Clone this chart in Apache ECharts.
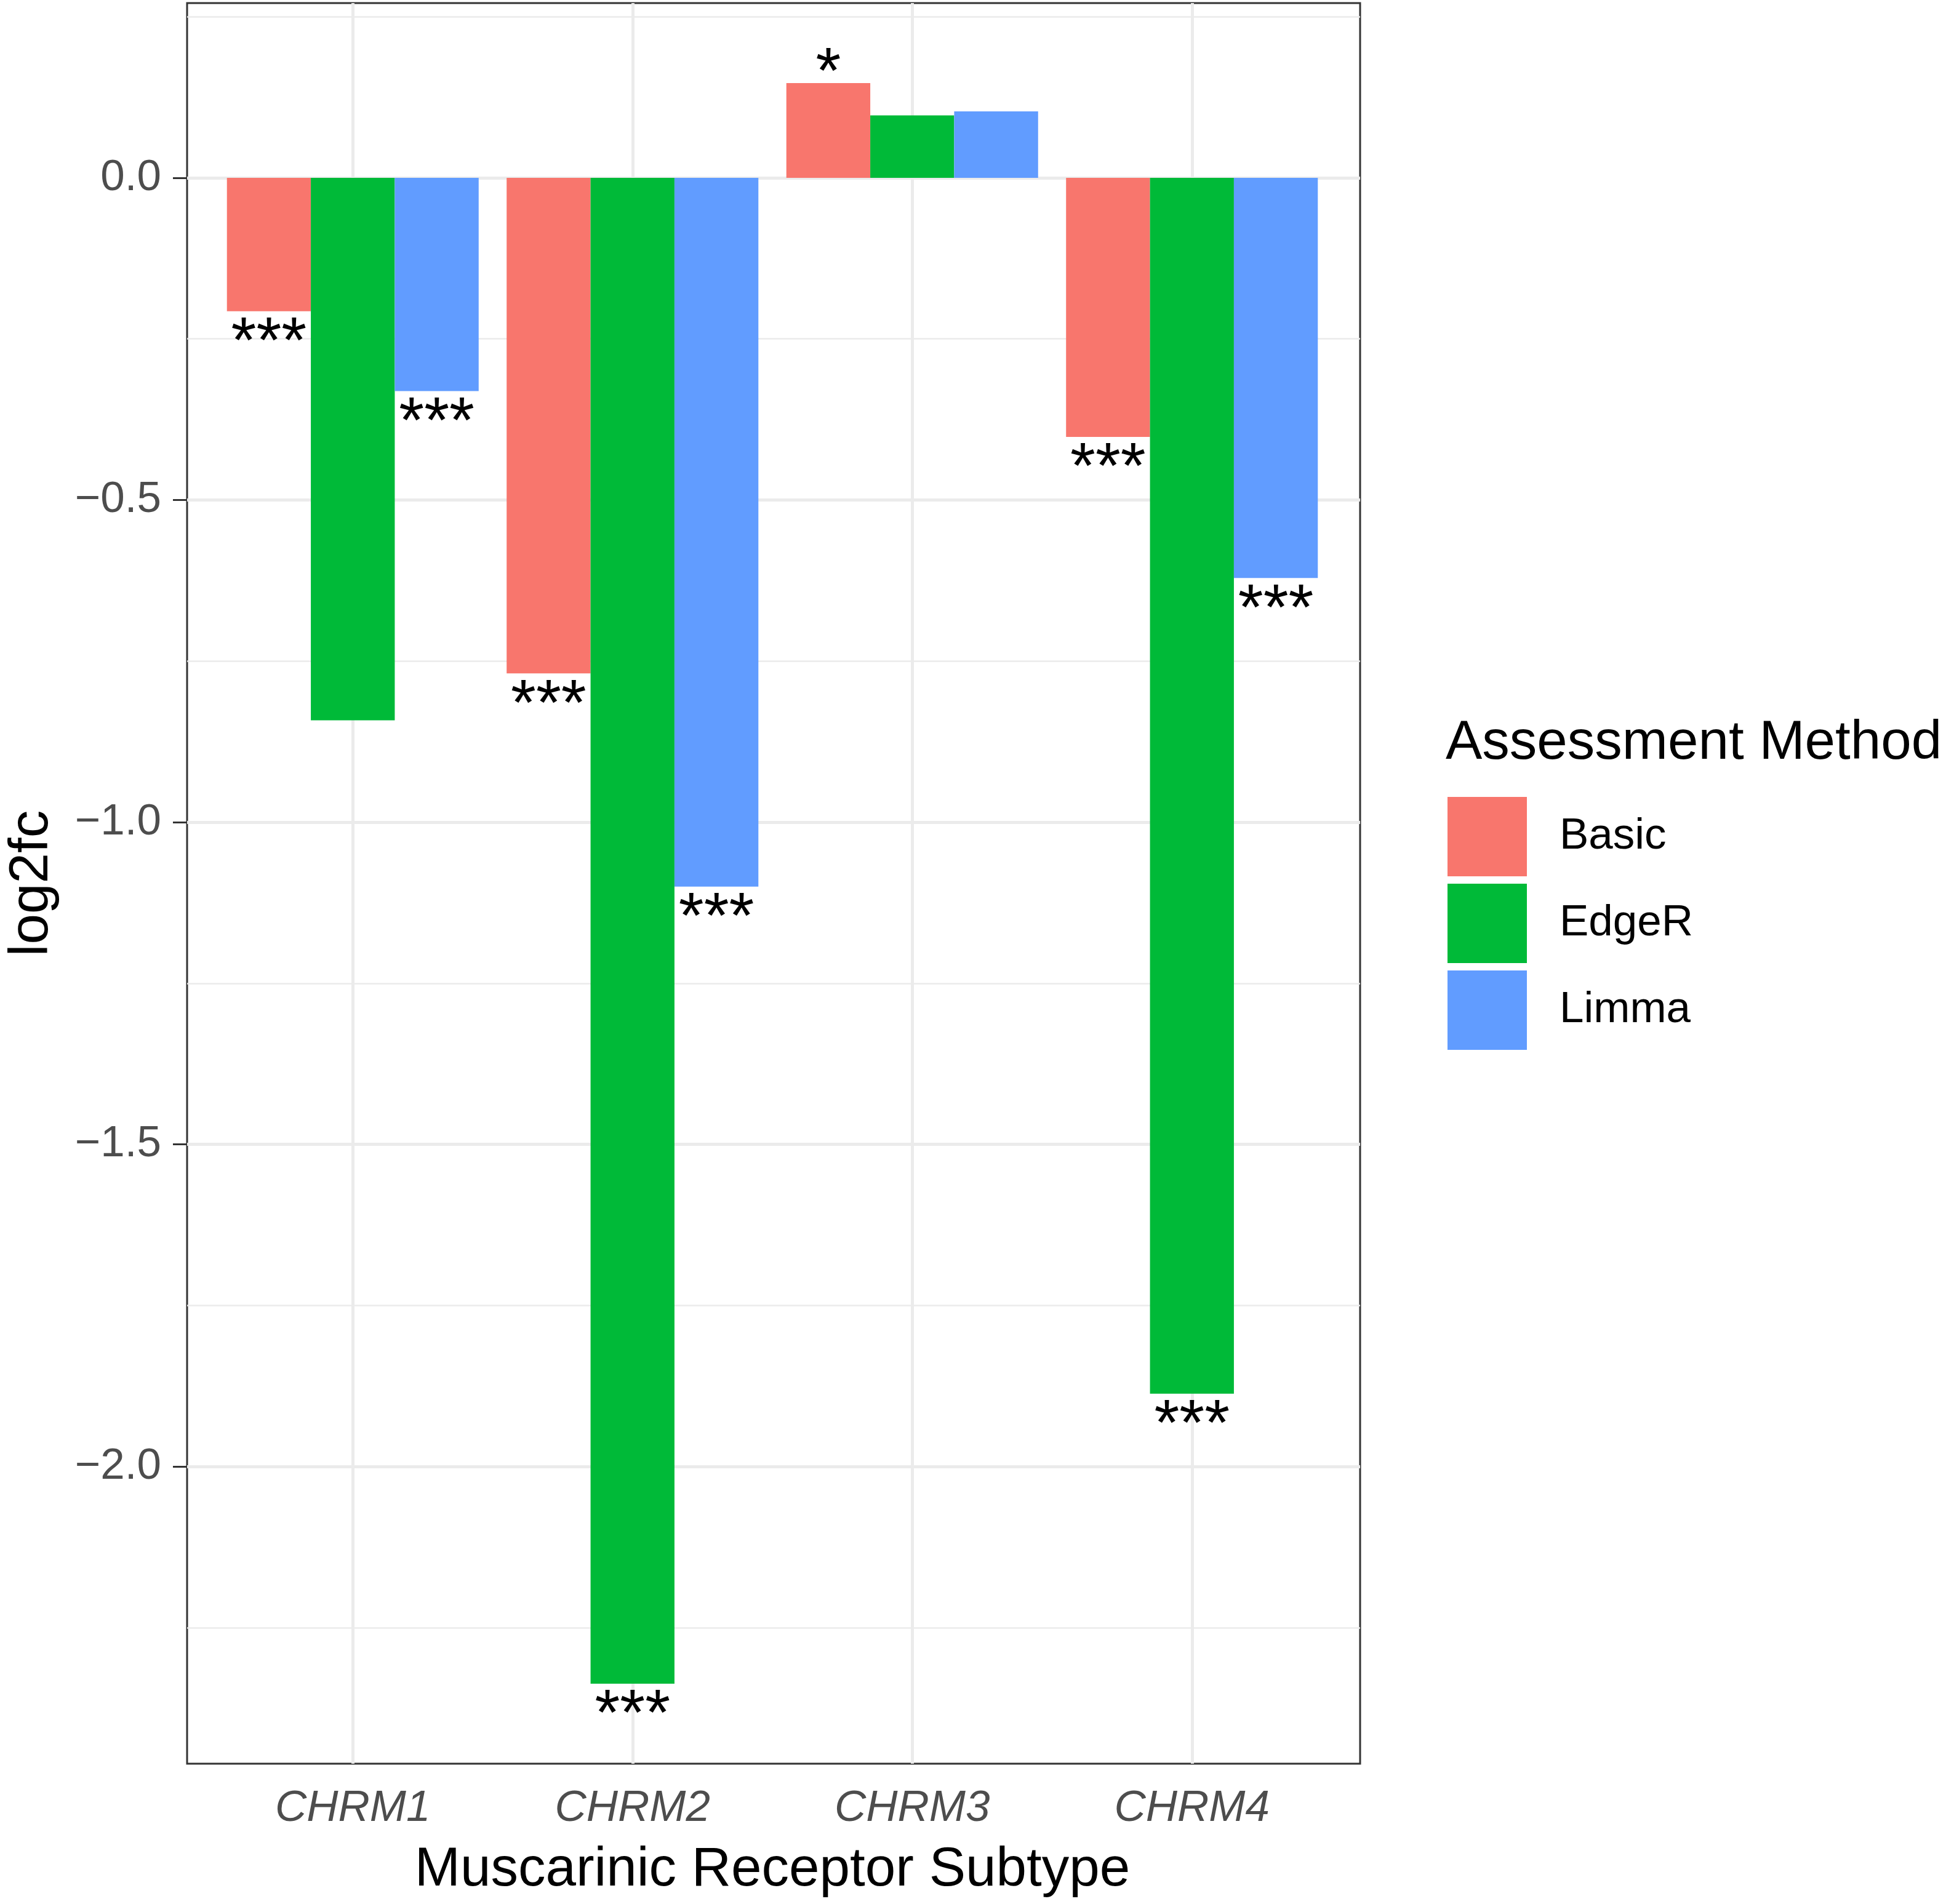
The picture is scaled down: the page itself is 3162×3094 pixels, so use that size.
<!DOCTYPE html>
<html>
<head>
<meta charset="utf-8">
<script src="https://cdn.jsdelivr.net/npm/echarts@6/dist/echarts.min.js"></script>
<style>
  html, body { margin: 0; padding: 0; background: #fff; }
  #chart { width: 3162px; height: 3094px; }
</style>
</head>
<body>
<div id="chart"></div>
<script>
'use strict';

// data
const subtypes = ['CHRM1', 'CHRM2', 'CHRM3', 'CHRM4'];
const methods = ['Basic', 'EdgeR', 'Limma'];
const basicVals = [-0.207, -0.769, 0.147, -0.402];
const edgerVals = [-0.842, -2.337, 0.097, -1.887];
const limmaVals = [-0.331, -1.100, 0.103, -0.621];
const basicSig = ['***', '***', '*', '***'];
const edgerSig = ['', '***', '', '***'];
const limmaSig = ['***', '***', '', '***'];
const yTicks = [-2.0, -1.5, -1.0, -0.5, 0.0];
const yMinor = [-2.25, -1.75, -1.25, -0.75, -0.25, 0.25];
const yMin = -2.4612;
const yMax = 0.2712;

const colors = ['#F8766D', '#00BA38', '#619CFF'];
const font = 'Liberation Sans';

function fmtTick(v) {
  return (v < 0 ? '\u2212' : '') + Math.abs(v).toFixed(1);
}

function barItems(vals, sig) {
  return vals.map((v, i) => {
    const item = { value: v };
    if (sig[i]) {
      item.label = {
        show: true,
        formatter: sig[i],
        position: v < 0 ? 'bottom' : 'top',
        distance: v < 0 ? 2 : -40
      };
    }
    return item;
  });
}

function barSeries(name, vals, sig, color) {
  return {
    name: name,
    type: 'bar',
    xAxisIndex: 1,
    yAxisIndex: 1,
    z: 10,
    barGap: '0%',
    barCategoryGap: '10%',
    itemStyle: { color: color },
    label: {
      show: false,
      fontFamily: font,
      fontSize: 105,
      color: '#000'
    },
    data: barItems(vals, sig)
  };
}

const hLines = [];
yTicks.forEach(v => hLines.push({ yAxis: v, lineStyle: { color: '#EBEBEB', width: 5, type: 'solid' } }));
yMinor.forEach(v => hLines.push({ yAxis: v, lineStyle: { color: '#EBEBEB', width: 2.5, type: 'solid' } }));
const vLines = subtypes.map(s => ({ xAxis: s, lineStyle: { color: '#EBEBEB', width: 5, type: 'solid' } }));

function gridSeries(name, axisIdx, lines) {
  return {
    name: name,
    type: 'line',
    xAxisIndex: axisIdx,
    yAxisIndex: axisIdx,
    z: 1,
    data: [],
    markLine: { z: 1, silent: true, symbol: 'none', label: { show: false }, animation: false, data: lines }
  };
}

const option = {
  animation: false,
  backgroundColor: '#fff',
  title: {
    text: 'Assessment Method',
    left: 2349,
    top: 1164,
    padding: 0,
    textStyle: { fontFamily: font, fontSize: 89, fontWeight: 'normal', color: '#000' }
  },
  legend: {
    data: methods,
    orient: 'vertical',
    left: 2352,
    top: 1295,
    padding: 0,
    icon: 'rect',
    itemWidth: 129,
    itemHeight: 129,
    itemGap: 12,
    textStyle: { fontFamily: font, fontSize: 71, color: '#000', padding: [10, 0, 0, 48] }
  },
  grid: [
    { left: 301, top: 5, width: 1909, height: 2861, show: true, borderColor: '#333', borderWidth: 3, backgroundColor: 'transparent' },
    { left: 346, top: 5, width: 1818, height: 2861 }
  ],
  xAxis: [
    { type: 'value', gridIndex: 0, min: 0, max: 1, show: false },
    {
      type: 'category',
      gridIndex: 1,
      data: subtypes,
      axisLine: { show: false },
      axisTick: { show: true, alignWithLabel: true, length: 23, lineStyle: { color: '#333', width: 3 } },
      axisLabel: { fontFamily: font, fontSize: 71, fontStyle: 'italic', color: '#4D4D4D', margin: 38 },
      splitLine: { show: false },
      name: 'Muscarinic Receptor Subtype',
      nameLocation: 'middle',
      nameGap: 129,
      nameTextStyle: { fontFamily: font, fontSize: 89, color: '#000' }
    }
  ],
  yAxis: [
    {
      type: 'value',
      gridIndex: 0,
      min: yMin,
      max: yMax,
      axisLine: { show: false },
      axisTick: { show: true, length: 23, customValues: yTicks, lineStyle: { color: '#333', width: 3 } },
      axisLabel: { fontFamily: font, fontSize: 71, color: '#4D4D4D', margin: 42, customValues: yTicks, formatter: fmtTick },
      splitLine: { show: false },
      name: 'log2fc',
      nameLocation: 'middle',
      nameRotate: 90,
      nameGap: 207,
      nameTextStyle: { fontFamily: font, fontSize: 89, color: '#000' }
    },
    { type: 'value', gridIndex: 1, min: yMin, max: yMax, show: false }
  ],
  series: [
    gridSeries('hgrid', 0, hLines),
    gridSeries('vgrid', 1, vLines),
    barSeries('Basic', basicVals, basicSig, colors[0]),
    barSeries('EdgeR', edgerVals, edgerSig, colors[1]),
    barSeries('Limma', limmaVals, limmaSig, colors[2])
  ]
};

const chart = echarts.init(document.getElementById('chart'));
chart.setOption(option);
</script>
</body>
</html>
